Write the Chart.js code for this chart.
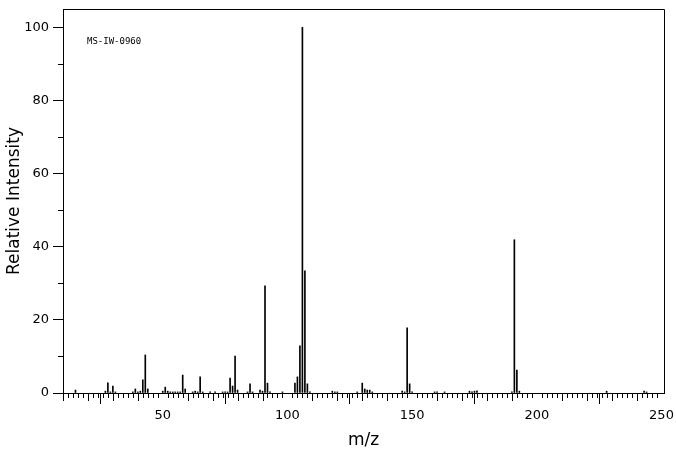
<!DOCTYPE html>
<html>
<head>
<meta charset="utf-8">
<script src="https://cdn.jsdelivr.net/npm/chart.js@4/dist/chart.umd.min.js"></script>
<style>
  html, body { margin: 0; padding: 0; background: #fff; }
  #wrap { width: 676px; height: 455px; }
</style>
</head>
<body>
<div id="wrap"><canvas id="spec"></canvas></div>
<script>
// mass spectrum peaks
const mz = [15, 27, 28, 29, 30, 31, 38, 39, 40, 41, 42, 43, 44,
    50, 51, 52, 53, 54, 55, 56, 57, 58, 59, 62, 63, 64, 65, 66, 69,
    71, 74, 75, 76, 77, 78, 79, 80, 84, 85, 86, 89, 90, 91, 92, 93, 98,
    103, 104, 105, 106, 107, 108, 109, 118, 119, 120, 128,
    130, 131, 132, 133, 134, 146, 147, 148, 149, 150, 159, 160, 163,
    173, 174, 175, 176, 190, 191, 192, 193, 228, 243, 244];
const intensity = [0.8, 0.5, 2.8, 0.3, 1.9, 0.3, 0.3, 1.1, 0.3, 0.5, 3.6, 10.4, 1.1,
    0.5, 1.6, 0.5, 0.3, 0.3, 0.3, 0.3, 0.3, 4.9, 1.1, 0.3, 0.5, 0.3, 4.4, 0.3, 0.3,
    0.3, 0.3, 0.3, 0.3, 4.1, 1.9, 10.1, 0.8, 0.3, 2.5, 0.3, 0.8, 0.5, 29.3, 2.7, 0.3, 0.3,
    2.7, 4.4, 12.9, 100, 33.4, 2.5, 0.3, 0.5, 0.3, 0.3, 0.3,
    2.7, 1.1, 0.8, 0.8, 0.3, 0.5, 0.3, 17.8, 2.5, 0.3, 0.3, 0.3, 0.3,
    0.5, 0.3, 0.5, 0.6, 0.3, 41.9, 6.3, 0.5, 0.5, 0.5, 0.3];

const xMin = 10, xMax = 251, xMinorStep = 2, xMidStep = 10, xMajorStep = 50;
const yMin = 0, yMax = 105, yMajorStep = 20, yMinorStep = 10;
const specId = 'MS-IW-0960';

const FONT = "'DejaVu Sans', sans-serif";

// frame box, minor ticks and the spectrum id
const framePlugin = {
    id: 'frame',
    afterDraw(chart) {
        const { ctx, chartArea: a, scales: { x, y } } = chart;
        ctx.save();
        ctx.strokeStyle = '#000';
        ctx.lineWidth = 1;
        ctx.beginPath();
        ctx.moveTo(Math.round(a.left) + 0.5, Math.round(a.bottom));
        ctx.lineTo(Math.round(a.left) + 0.5, Math.round(a.top) + 0.5);
        ctx.lineTo(Math.round(a.right) + 0.5, Math.round(a.top) + 0.5);
        ctx.lineTo(Math.round(a.right) + 0.5, Math.round(a.bottom));
        ctx.stroke();

        ctx.beginPath();
        for (let v = xMin; v <= xMax; v += xMinorStep) {
            if (v % xMajorStep === 0) continue;
            const px = Math.round(x.getPixelForValue(v)) + 0.5;
            const len = v % xMidStep === 0 ? 8 : 5;
            ctx.moveTo(px, a.bottom);
            ctx.lineTo(px, a.bottom + len);
        }
        for (let v = yMinorStep; v < yMax; v += yMajorStep) {
            const py = Math.round(y.getPixelForValue(v)) + 0.5;
            ctx.moveTo(a.left, py);
            ctx.lineTo(a.left - 5, py);
        }
        ctx.stroke();

        ctx.fillStyle = '#000';
        ctx.font = "9px 'DejaVu Sans Mono', monospace";
        ctx.textBaseline = 'middle';
        ctx.fillText(specId, a.left + 24, a.top + 33);
        ctx.restore();
    }
};

new Chart(document.getElementById('spec'), {
    type: 'bar',
    data: {
        datasets: [{
            data: mz.map((m, i) => ({ x: m, y: intensity[i] })),
            backgroundColor: '#000',
            borderWidth: 0,
            barThickness: 1
        }]
    },
    options: {
        responsive: true,
        maintainAspectRatio: false,
        animation: false,
        layout: { padding: { top: 9, right: 12, left: 0, bottom: 0 } },
        plugins: {
            legend: { display: false },
            tooltip: { enabled: false }
        },
        scales: {
            x: {
                type: 'linear',
                offset: false,
                min: xMin,
                max: xMax,
                grid: { drawOnChartArea: false, drawTicks: true, tickLength: 11, color: '#000' },
                border: { display: true, color: '#000', width: 1 },
                ticks: {
                    stepSize: xMajorStep,
                    includeBounds: false,
                    maxRotation: 0,
                    autoSkip: false,
                    color: '#000',
                    padding: 4,
                    font: { family: FONT, size: 13 }
                },
                title: {
                    display: true,
                    text: 'm/z',
                    color: '#000',
                    padding: { top: 4 },
                    font: { family: FONT, size: 17 }
                },
                afterFit(scale) {
                    scale.height = 62;
                    scale.paddingLeft = 0;
                    scale.paddingRight = 0;
                }
            },
            y: {
                min: yMin,
                max: yMax,
                grid: { drawOnChartArea: false, drawTicks: true, tickLength: 10, color: '#000' },
                border: { display: true, color: '#000', width: 1 },
                ticks: {
                    stepSize: yMajorStep,
                    includeBounds: false,
                    color: '#000',
                    padding: 4,
                    font: { family: FONT, size: 13 }
                },
                title: {
                    display: true,
                    text: 'Relative Intensity',
                    color: '#000',
                    padding: { bottom: 2 },
                    font: { family: FONT, size: 17 }
                },
                afterFit(scale) {
                    scale.width = 63;
                    scale.paddingTop = 0;
                    scale.paddingBottom = 0;
                }
            }
        }
    },
    plugins: [framePlugin]
});
</script>
</body>
</html>
